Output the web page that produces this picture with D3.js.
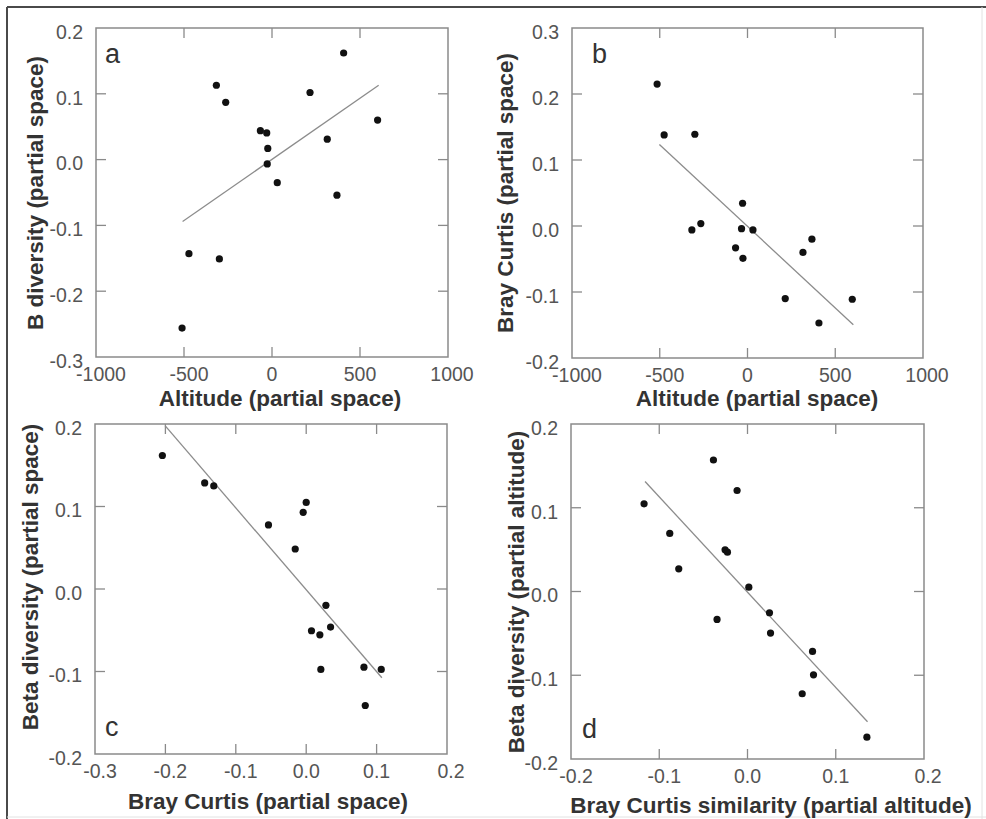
<!DOCTYPE html>
<html>
<head>
<meta charset="utf-8">
<script src="https://cdn.jsdelivr.net/npm/d3@7"></script>
<style>
  html, body { margin: 0; padding: 0; background: #fff; }
  svg { display: block; }
</style>
</head>
<body>
<svg id="chart" width="986" height="819"></svg>
<script>
// ---------------- DATA ----------------
// Panel a: B diversity vs Altitude (partial space)
const altA  = [-511, -472, -316, -299, -263, -66, -30, -27, -24, 30, 216, 314, 369, 407, 600];
const betaA = [-0.256, -0.143, 0.113, -0.151, 0.087, 0.044, 0.0405, -0.0065, 0.017, -0.035, 0.102, 0.031, -0.054, 0.162, 0.060];
const fitAx = [-508, 606];
const fitAy = [-0.094, 0.113];

// Panel b: Bray Curtis vs Altitude (partial space)
const altB   = [-515, -475, -300, -317, -266, -28, -34, 31, -68, -26, 367, 316, 215, 597, 407];
const brayB  = [0.215, 0.138, 0.139, -0.006, 0.0036, 0.0345, -0.004, -0.006, -0.033, -0.049, -0.020, -0.040, -0.110, -0.111, -0.147];
const fitBx = [-502, 603];
const fitBy = [0.1236, -0.1497];

// Panel c: Beta diversity vs Bray Curtis (partial space)
const brayC = [-0.2043, -0.1442, -0.1313, 0.000, -0.0043, -0.0536, -0.0156, 0.028, 0.0075, 0.0194, 0.0346, 0.0208, 0.0820, 0.1066, 0.0839];
const betaC = [0.1618, 0.1286, 0.125, 0.105, 0.093, 0.0777, 0.0485, -0.0198, -0.0506, -0.0555, -0.0461, -0.0975, -0.0947, -0.0975, -0.1412];
const fitCx = [-0.2005, 0.1075];
const fitCy = [0.198, -0.1076];

// Panel d: Beta diversity vs Bray Curtis similarity (partial altitude)
const brayD = [-0.0386, -0.0118, -0.1172, -0.0881, -0.0254, -0.0227, -0.0779, 0.0015, 0.0249, 0.0261, -0.0345, 0.0737, 0.0748, 0.0620, 0.1353];
const betaD = [0.157, 0.1206, 0.1047, 0.0693, 0.0498, 0.047, 0.0271, 0.0052, -0.0254, -0.0497, -0.0334, -0.0716, -0.0995, -0.1221, -0.1739];
const fitDx = [-0.1161, 0.136];
const fitDy = [0.1313, -0.1556];

// Tick values
const ticksAltitude = [-1000, -500, 0, 500, 1000];
const ticksYa = [-0.3, -0.2, -0.1, 0.0, 0.1, 0.2];
const ticksYb = [-0.2, -0.1, 0.0, 0.1, 0.2, 0.3];
const ticksXc = [-0.3, -0.2, -0.1, 0.0, 0.1, 0.2];
const ticksYc = [-0.2, -0.1, 0.0, 0.1, 0.2];
const ticksXd = [-0.2, -0.1, 0.0, 0.1, 0.2];
const ticksYd = [-0.2, -0.1, 0.0, 0.1, 0.2];

// Labels
const panelLetters = ["a", "b", "c", "d"];
const xTitles = ["Altitude (partial space)", "Altitude (partial space)", "Bray Curtis (partial space)", "Bray Curtis similarity (partial altitude)"];
const yTitles = ["B diversity (partial space)", "Bray Curtis (partial space)", "Beta diversity (partial space)", "Beta diversity (partial altitude)"];

// ---------------- LAYOUT ----------------
const fmtInt = v => String(v);
const fmt1 = v => v.toFixed(1);

const panels = [
  { x: altA, y: betaA, fx: fitAx, fy: fitAy, xt: ticksAltitude, yt: ticksYa, xf: fmtInt, yf: fmt1,
    rect: [96, 28, 448, 357], letter: [105, 63], xTitle: [280, 398], yTitle: [35, 193] },
  { x: altB, y: brayB, fx: fitBx, fy: fitBy, xt: ticksAltitude, yt: ticksYb, xf: fmtInt, yf: fmt1,
    rect: [572, 28, 923, 358], letter: [592, 63], xTitle: [757, 398], yTitle: [505, 193] },
  { x: brayC, y: betaC, fx: fitCx, fy: fitCy, xt: ticksXc, yt: ticksYc, xf: fmt1, yf: fmt1,
    rect: [95, 424, 447, 754], letter: [105, 736], xTitle: [268, 801], yTitle: [30, 577] },
  { x: brayD, y: betaD, fx: fitDx, fy: fitDy, xt: ticksXd, yt: ticksYd, xf: fmt1, yf: fmt1,
    rect: [571, 424, 924, 759], letter: [582, 738], xTitle: [771, 805], yTitle: [516, 592] }
];

const svg = d3.select("#chart");
svg.append("rect").attr("width", 986).attr("height", 819).attr("fill", "#fff");

// outer figure border
svg.append("line").attr("x1", 7).attr("y1", 7).attr("x2", 986).attr("y2", 7)
  .attr("stroke", "#4a4a4a").attr("stroke-width", 2);
svg.append("line").attr("x1", 7).attr("y1", 7).attr("x2", 7).attr("y2", 819)
  .attr("stroke", "#4a4a4a").attr("stroke-width", 2);
svg.append("line").attr("x1", 982).attr("y1", 7).attr("x2", 982).attr("y2", 819)
  .attr("stroke", "#e2e2e2").attr("stroke-width", 1);
svg.append("line").attr("x1", 7).attr("y1", 817).attr("x2", 986).attr("y2", 817)
  .attr("stroke", "#e2e2e2").attr("stroke-width", 1);

const FONT = "'Liberation Sans', Arial, Helvetica, sans-serif";
const frameColor = "#8a8a8a";
const tickLen = 10;

panels.forEach((p, i) => {
  const [x0, y0, x1, y1] = p.rect;
  const xs = d3.scaleLinear().domain(d3.extent(p.xt)).range([x0, x1]);
  const ys = d3.scaleLinear().domain(d3.extent(p.yt)).range([y1, y0]);
  const g = svg.append("g");

  // inner ticks on all four sides
  const innerX = p.xt.slice(1, -1);
  const innerY = p.yt.slice(1, -1);
  const tickG = g.append("g").attr("stroke", frameColor).attr("stroke-width", 1.3);
  innerX.forEach(v => {
    tickG.append("line").attr("x1", xs(v)).attr("x2", xs(v)).attr("y1", y1).attr("y2", y1 - tickLen);
    tickG.append("line").attr("x1", xs(v)).attr("x2", xs(v)).attr("y1", y0).attr("y2", y0 + tickLen);
  });
  innerY.forEach(v => {
    tickG.append("line").attr("y1", ys(v)).attr("y2", ys(v)).attr("x1", x0).attr("x2", x0 + tickLen);
    tickG.append("line").attr("y1", ys(v)).attr("y2", ys(v)).attr("x1", x1).attr("x2", x1 - tickLen);
  });

  // frame
  g.append("rect").attr("x", x0).attr("y", y0).attr("width", x1 - x0).attr("height", y1 - y0)
    .attr("fill", "none").attr("stroke", frameColor).attr("stroke-width", 1.5);

  // tick labels
  const lastX = p.xt[p.xt.length - 1];
  g.selectAll(".xl").data(p.xt).enter().append("text")
    .attr("x", d => xs(d) + (d < 0 ? 5 : (d === lastX ? 4 : 0)))
    .attr("y", y1 + 24)
    .attr("text-anchor", "middle")
    .attr("font-family", FONT).attr("font-size", 19.5).attr("fill", "#555")
    .text(d => p.xf(d));
  g.selectAll(".yl").data(p.yt).enter().append("text")
    .attr("x", x0 - 13)
    .attr("y", d => ys(d) + 4)
    .attr("dy", "0.35em")
    .attr("text-anchor", "end")
    .attr("font-family", FONT).attr("font-size", 19.5).attr("fill", "#555")
    .text(d => p.yf(d));

  // regression line
  g.append("line")
    .attr("x1", xs(p.fx[0])).attr("y1", ys(p.fy[0]))
    .attr("x2", xs(p.fx[1])).attr("y2", ys(p.fy[1]))
    .attr("stroke", "#8c8c8c").attr("stroke-width", 1.3);

  // points
  g.selectAll(".pt").data(p.x.map((v, k) => [v, p.y[k]])).enter().append("circle")
    .attr("cx", d => xs(d[0])).attr("cy", d => ys(d[1])).attr("r", 3.6)
    .attr("fill", "#111");

  // panel letter
  g.append("text").attr("x", p.letter[0]).attr("y", p.letter[1])
    .attr("font-family", FONT).attr("font-size", 27).attr("fill", "#333")
    .text(panelLetters[i]);

  // axis titles
  g.append("text").attr("x", p.xTitle[0]).attr("y", p.xTitle[1])
    .attr("dy", "0.35em").attr("text-anchor", "middle")
    .attr("font-family", FONT).attr("font-size", 22.5).attr("font-weight", "bold").attr("fill", "#333")
    .text(xTitles[i]);
  g.append("text")
    .attr("transform", `translate(${p.yTitle[0]},${p.yTitle[1]}) rotate(-90)`)
    .attr("dy", "0.35em").attr("text-anchor", "middle")
    .attr("font-family", FONT).attr("font-size", 22.5).attr("font-weight", "bold").attr("fill", "#333")
    .text(yTitles[i]);
});
</script>
</body>
</html>
